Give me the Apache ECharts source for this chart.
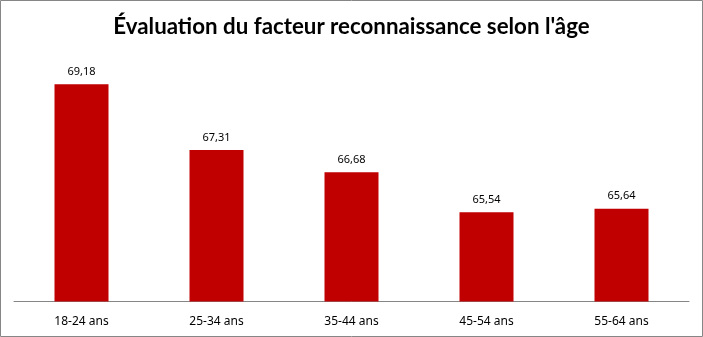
<!DOCTYPE html>
<html>
<head>
<meta charset="utf-8">
<script src="https://cdn.jsdelivr.net/npm/echarts@6/dist/echarts.min.js"></script>
<style>
  html, body { margin: 0; padding: 0; background: #fff; }
  #chart { width: 703px; height: 337px; }
</style>
</head>
<body>
<div id="chart"></div>
<script>
// Age groups and their "reconnaissance" scores
const categories = ['18-24 ans', '25-34 ans', '35-44 ans', '45-54 ans', '55-64 ans'];
const scores = [69.18, 67.31, 66.68, 65.54, 65.64];
const titleText = "Évaluation du facteur reconnaissance selon l'âge";

const chart = echarts.init(document.getElementById('chart'), null, { renderer: 'canvas' });

chart.setOption({
  backgroundColor: '#ffffff',
  animation: false,
  title: {
    text: titleText,
    left: 'center',
    top: 11,
    textStyle: {
      fontFamily: 'Lato',
      fontWeight: 'bold',
      fontSize: 22.3,
      color: '#000000'
    }
  },
  graphic: [{
    type: 'rect',
    shape: { x: 0.5, y: 0.5, width: 702, height: 336 },
    style: { fill: 'none', stroke: '#868686', lineWidth: 1 },
    silent: true
  }],
  grid: { left: 14, right: 14, top: 55.5, bottom: 35.5, containLabel: false },
  xAxis: {
    type: 'category',
    data: categories,
    axisLine: { show: true, lineStyle: { color: '#868686', width: 1 } },
    axisTick: { show: false },
    axisLabel: {
      margin: 14,
      fontFamily: 'Noto Sans',
      fontSize: 12,
      color: '#000000'
    }
  },
  yAxis: {
    type: 'value',
    min: 63,
    max: 70,
    show: false,
    splitLine: { show: false }
  },
  series: [{
    type: 'bar',
    data: scores,
    barWidth: 54,
    itemStyle: { color: '#C00000' },
    label: {
      show: true,
      position: 'top',
      distance: 7,
      fontFamily: 'Noto Sans',
      fontSize: 11,
      color: '#000000',
      formatter: p => p.value.toFixed(2).replace('.', ',')
    }
  }]
});
</script>
</body>
</html>
